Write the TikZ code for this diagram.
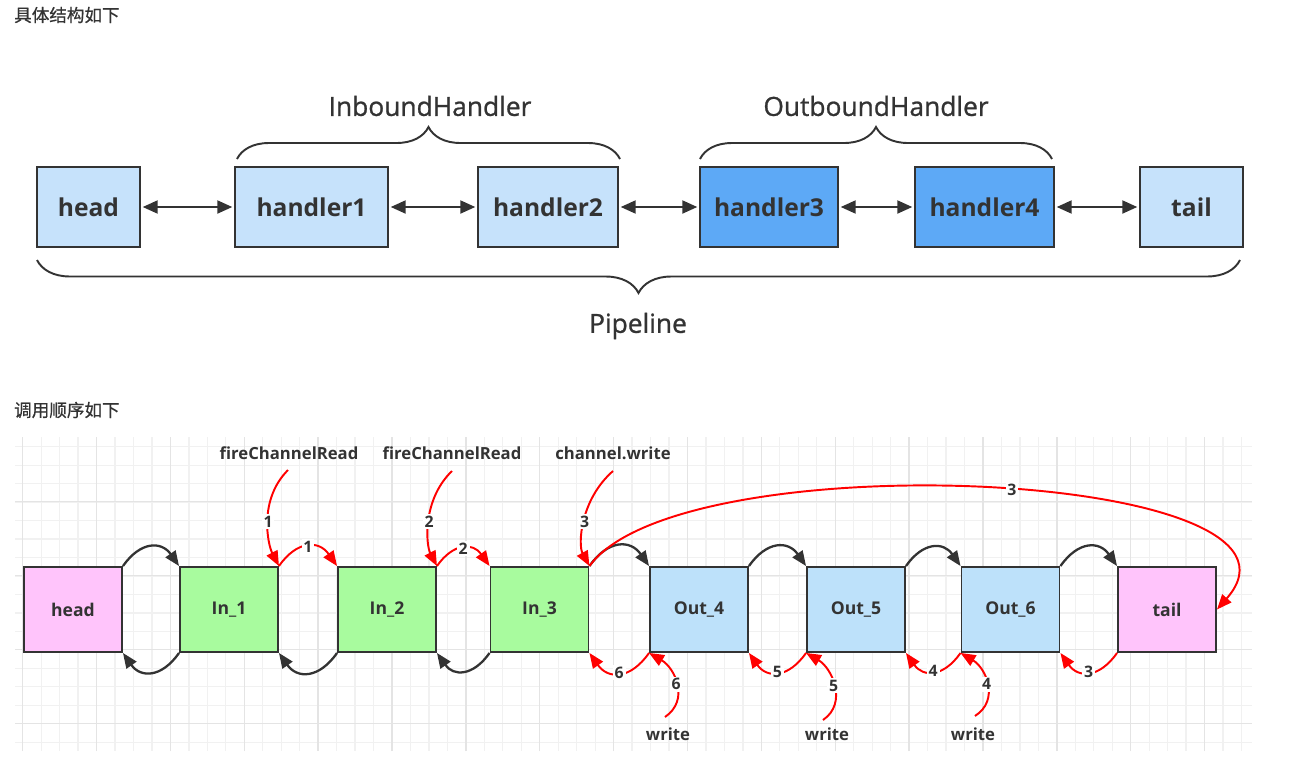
\documentclass[tikz,border=0pt]{standalone}
\usepackage{fontspec}
\setmainfont{Open Sans}
\newfontfamily\cjk{Noto Sans CJK SC}[FakeBold=0.6]
\newfontfamily\grpfont{Open Sans}[FakeBold=0.9]
\usetikzlibrary{arrows.meta,decorations.pathreplacing}

\definecolor{txtgray}{HTML}{333333}
\definecolor{boxline}{HTML}{333333}
\definecolor{lightblue}{HTML}{C6E2FB}
\definecolor{midblue}{HTML}{5DA9F6}
\definecolor{pinkfill}{HTML}{FFC4FB}
\definecolor{greenfill}{HTML}{A8FB9E}
\definecolor{paleblue}{HTML}{BDE1FA}
\definecolor{callred}{HTML}{FF0000}
\definecolor{gridminor}{HTML}{F1F1F1}
\definecolor{gridmajor}{HTML}{E4E4E4}

\tikzset{
  box/.style={draw=boxline, line width=1.1pt, minimum height=1.6cm, inner sep=0pt,
    text=txtgray, font=\fontsize{14}{16}\selectfont\bfseries},
  cell/.style={draw=boxline, line width=1.1pt, minimum width=1.96cm, minimum height=1.7cm,
    inner sep=0pt, text=txtgray, font=\fontsize{10}{12}\selectfont\bfseries},
  link/.style={{Triangle[length=0.3cm,width=0.26cm]}-{Triangle[length=0.3cm,width=0.26cm]},
    line width=1.2pt, draw=boxline, shorten <=1pt, shorten >=1pt},
  hop/.style={-{Triangle[length=0.3cm,width=0.24cm]}, line width=1.3pt, draw=boxline},
  call/.style={-{Triangle[length=0.3cm,width=0.24cm]}, line width=1.1pt, draw=callred},
  num/.style={fill=white, inner sep=1pt, text=txtgray, font=\fontsize{9}{10}\selectfont\bfseries},
  grp/.style={text=txtgray, font=\grpfont\fontsize{15}{18}\selectfont},
  tag/.style={text=txtgray, font=\fontsize{9.5}{11}\selectfont\bfseries},
  title/.style={anchor=west, text=txtgray, font=\cjk\fontsize{10}{12}\selectfont},
  bracket/.style={decorate, line width=1.1pt, draw=boxline},
}

\begin{document}
\begin{tikzpicture}[x=0.02cm,y=0.02cm]
    \useasboundingbox (0,0) rectangle (1292,-778);
    % structure
    \node[title] (title1) at (8,-15) {具体结构如下};
    \node[box, fill=lightblue, minimum width=2.06cm] (head) at (88.5,-207) {head};
    \node[box, fill=lightblue, minimum width=3.06cm] (hdl1) at (311.5,-207) {handler1};
    \node[box, fill=lightblue, minimum width=2.8cm] (hdl2) at (548,-207) {handler2};
    \node[box, fill=midblue, minimum width=2.76cm] (hdl3) at (769,-207) {handler3};
    \node[box, fill=midblue, minimum width=2.78cm] (hdl4) at (984.5,-207) {handler4};
    \node[box, fill=lightblue, minimum width=2.06cm] (tail) at (1191.5,-207) {tail};
    \draw[link] (head) -- (hdl1);
    \draw[link] (hdl1) -- (hdl2);
    \draw[link] (hdl2) -- (hdl3);
    \draw[link] (hdl3) -- (hdl4);
    \draw[link] (hdl4) -- (tail);
    \draw[bracket, decoration={brace,amplitude=0.64cm}] (237,-159) -- (620,-159);
    \draw[bracket, decoration={brace,amplitude=0.64cm}] (700,-159) -- (1052,-159);
    \draw[bracket, decoration={brace,amplitude=0.66cm}] (1240,-260) -- (37,-260);
    \node[grp] (inb) at (430,-106) {InboundHandler};
    \node[grp] (outb) at (876,-106) {OutboundHandler};
    \node[grp] (pipe) at (638,-326) {Pipeline};

    % call order
    \node[title] (title2) at (8,-410) {调用顺序如下};
    \begin{scope}[shift={(22.7,-446.7)}]
        \draw[gridminor, line width=0.7pt, step=0.3694cm] (-7.7,9.7) grid (1229.3,-304.3);
    \end{scope}
    \begin{scope}[shift={(22.7,-501.7)}]
        \draw[gridmajor, line width=0.8pt, step=1.4776cm] (-7.7,64.7) grid (1229.3,-249.3);
    \end{scope}
    \node[cell, fill=pinkfill] (bhead) at (73,-609.5) {head};
    \node[cell, fill=greenfill] (in1) at (229,-609.5) {In\_1};
    \node[cell, fill=greenfill] (in2) at (387,-609.5) {In\_2};
    \node[cell, fill=greenfill] (in3) at (539.5,-609.5) {In\_3};
    \node[cell, fill=paleblue] (out4) at (699,-609.5) {Out\_4};
    \node[cell, fill=paleblue] (out5) at (856,-609.5) {Out\_5};
    \node[cell, fill=paleblue] (out6) at (1010.5,-609.5) {Out\_6};
    \node[cell, fill=pinkfill] (btail) at (1167,-609.5) {tail};

    \node[tag] (fcr1) at (289,-453) {fireChannelRead};
    \node[tag] (fcr2) at (452,-453) {fireChannelRead};
    \node[tag] (cw) at (613,-453) {channel.write};
    \node[tag] (wr6) at (668,-734) {write};
    \node[tag] (wr5) at (827,-734) {write};
    \node[tag] (wr4) at (973,-734) {write};
    \coordinate (s1) at (288,-470);
    \coordinate (s2) at (452,-471);
    \coordinate (s3) at (613,-471);
    \coordinate (w6) at (665,-717);
    \coordinate (w5) at (823,-720);
    \coordinate (w4) at (975,-716);

    % forward hops
    \draw[hop] (bhead.north east) to[out=55,in=125,looseness=1.4] (in1.north west);
    \draw[call] (in1.north east) to[out=55,in=125,looseness=1.4] node[num] {1} (in2.north west);
    \draw[call] (in2.north east) to[out=55,in=125,looseness=1.4] node[num] {2} (in3.north west);
    \draw[hop] (in3.north east) to[out=55,in=125,looseness=1.4] (out4.north west);
    \draw[hop] (out4.north east) to[out=55,in=125,looseness=1.4] (out5.north west);
    \draw[hop] (out5.north east) to[out=55,in=125,looseness=1.4] (out6.north west);
    \draw[hop] (out6.north east) to[out=55,in=125,looseness=1.4] (btail.north west);
    % backward hops
    \draw[hop] (in1.south west) to[out=-125,in=-55,looseness=1.4] (bhead.south east);
    \draw[hop] (in2.south west) to[out=-125,in=-55,looseness=1.4] (in1.south east);
    \draw[hop] (in3.south west) to[out=-125,in=-55,looseness=1.4] (in2.south east);
    \draw[call] (out4.south west) to[out=-125,in=-55,looseness=1.4] node[num] {6} (in3.south east);
    \draw[call] (out5.south west) to[out=-125,in=-55,looseness=1.4] node[num] {5} (out4.south east);
    \draw[call] (out6.south west) to[out=-125,in=-55,looseness=1.4] node[num] {4} (out5.south east);
    \draw[call] (btail.south west) to[out=-125,in=-55,looseness=1.4] node[num] {3} (out6.south east);
    % entry calls
    \draw[call] (s1) .. controls (258,-500) and (268,-545) .. node[num] {1} (in1.north east);
    \draw[call] (s2) .. controls (422,-500) and (426,-545) .. node[num] {2} (in2.north east);
    \draw[call] (s3) .. controls (580,-500) and (578,-545) .. node[num] {3} (in3.north east);
    \draw[call] (in3.north east) .. controls (680,-440) and (1340,-470) .. node[num,pos=0.53] {3} (btail.east);
    \draw[call] (w6) .. controls (690,-700) and (675,-668) .. node[num] {6} (out4.south west);
    \draw[call] (w5) .. controls (848,-703) and (832,-668) .. node[num] {5} (out5.south west);
    \draw[call] (w4) .. controls (1000,-700) and (986,-668) .. node[num] {4} (out6.south west);
\end{tikzpicture}
\end{document}
